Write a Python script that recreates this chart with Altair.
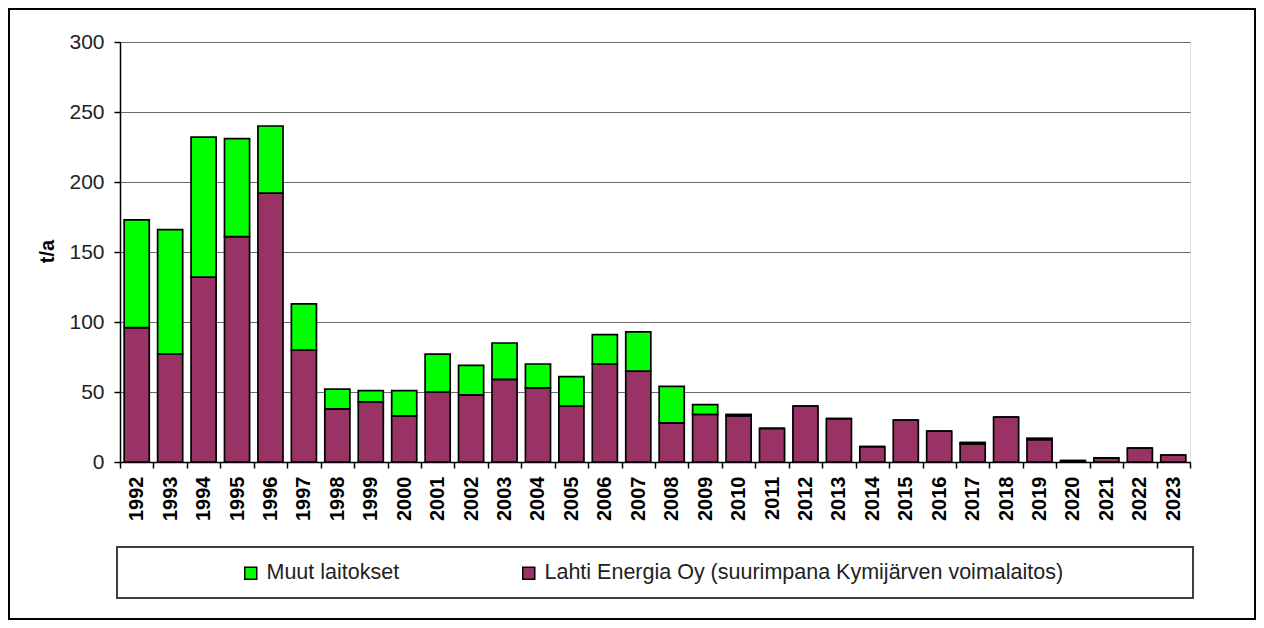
import altair as alt
import pandas as pd

years = ["1992", "1993", "1994", "1995", "1996", "1997", "1998", "1999", "2000", "2001",
         "2002", "2003", "2004", "2005", "2006", "2007", "2008", "2009", "2010", "2011",
         "2012", "2013", "2014", "2015", "2016", "2017", "2018", "2019", "2020", "2021",
         "2022", "2023"]
lahti = [96, 77, 132, 161, 192, 80, 38, 43, 33, 50,
         48, 59, 53, 40, 70, 65, 28, 34, 33, 24,
         40, 31, 11, 30, 22, 13, 32, 16, 1, 3,
         10, 5]
muut = [77, 89, 100, 70, 48, 33, 14, 8, 18, 27,
        21, 26, 17, 21, 21, 28, 26, 7, 1, 0,
        0, 0, 0, 0, 0, 1, 0, 1, 0, 0,
        0, 0]
series = ["Muut laitokset", "Lahti Energia Oy (suurimpana Kymijärven voimalaitos)"]
colors = ["#00FF00", "#993366"]
y_ticks = [0, 50, 100, 150, 200, 250, 300]

rows = []
for i, yr in enumerate(years):
    rows.append({"year": yr, "series": series[1], "value": lahti[i], "ord": 0})
    rows.append({"year": yr, "series": series[0], "value": muut[i], "ord": 1})
df = pd.DataFrame(rows)

FONT = "Liberation Sans"

bars = alt.Chart(df).mark_bar(
    width=alt.RelativeBandSize(0.75), stroke="black", strokeWidth=1.7
).encode(
    x=alt.X("year:N", sort=years,
            scale=alt.Scale(paddingInner=0, paddingOuter=0),
            axis=alt.Axis(title=None, labelAngle=-90, labelFont=FONT, labelFontSize=20,
                          labelFontWeight="bold", labelColor="black", tickBand="extent",
                          tickSize=6, tickColor="black", tickWidth=1.5, domainColor="black",
                          domainWidth=1.5, labelPadding=8, grid=False)),
    y=alt.Y("value:Q", stack="zero",
            scale=alt.Scale(domain=[0, 300], nice=False),
            axis=alt.Axis(values=y_ticks, title="t/a", titleFont=FONT, titleFontSize=20,
                          titleFontWeight="bold", titleColor="black", titleX=-63, titleY=209,
                          titleAngle=270, titleAlign="center",
                          labelFont=FONT, labelFontSize=21, labelColor="#222222",
                          labelPadding=10, tickSize=6, tickColor="black", tickWidth=1.5,
                          domainColor="black", domainWidth=1.5,
                          grid=True, gridColor="#6a6a6a", gridWidth=1.2)),
    color=alt.Color("series:N", scale=alt.Scale(domain=series, range=colors),
                    legend=alt.Legend(title=None, orient="none", legendX=120, legendY=520,
                                      direction="horizontal", columns=2, columnPadding=118,
                                      symbolType="square", symbolSize=144,
                                      symbolStrokeColor="black", symbolStrokeWidth=1.5,
                                      labelFont=FONT, labelFontSize=21.5, labelColor="#222222",
                                      labelLimit=800, labelOffset=5, padding=0)),
    order=alt.Order("ord:Q", sort="ascending"),
)

legend_box = alt.Chart(df).mark_rect(fill=None, stroke="#404040", strokeWidth=1.5).encode(
    x=alt.value(-3), x2=alt.value(1073), y=alt.value(505), y2=alt.value(556)
)

frame = alt.Chart(df).mark_rect(fill=None, stroke="black", strokeWidth=2).encode(
    x=alt.value(-111), x2=alt.value(1135), y=alt.value(-33), y2=alt.value(577)
)

chart = alt.layer(frame, legend_box, bars).properties(
    width=1070, height=420,
    autosize=alt.AutoSizeParams(type="none"),
    padding={"left": 112, "top": 34, "right": 66, "bottom": 158},
).configure_view(stroke="#808080", strokeWidth=1.2).configure(background="white")

chart.save("out.html", embed_options={"renderer": "svg", "actions": False})
